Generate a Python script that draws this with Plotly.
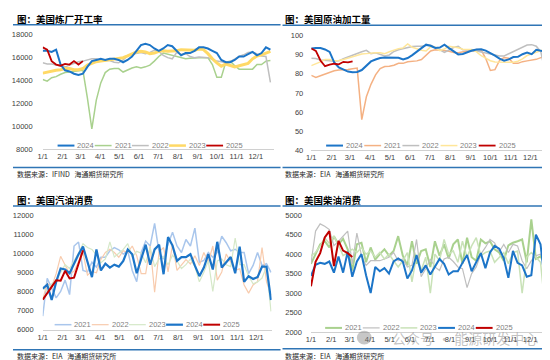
import plotly.graph_objects as go

# ---------------- data ----------------
month_days = [0, 31, 59, 90, 120, 151, 181, 212, 243, 273, 304, 334]
month_labels = ["1/1", "2/1", "3/1", "4/1", "5/1", "6/1", "7/1", "8/1", "9/1", "10/1", "11/1", "12/1"]

# Panel 1: 美国炼厂开工率
ref_2024 = [16600, 16600, 16500, 16700, 15400, 14900, 14800, 14600, 14500, 14600,
            15200, 15700, 15800, 15900, 15800, 15900, 15900, 15800, 15600, 15800,
            16100, 16600, 17100, 17200, 17100, 16800, 16600, 16800, 17100, 17000,
            16600, 16200, 16400, 16400, 16600, 16900, 16900, 16800, 16600, 16400,
            15800, 15600, 15600, 15800, 16100, 16100, 16300, 16500, 16200, 16400,
            16900, 16700]
ref_2021 = [14100, 13950, 14250, 14350, 14550, 14700, 14750, 14800, 14900, 14900,
            12500, 9800, 12300, 13800, 14700, 15000, 15050, 15050, 14750, 14950,
            15100, 15200, 15100, 15200, 15350, 15700, 16100, 16400, 16300, 16200,
            16150, 16000, 15900, 15950, 16000, 16000, 16000, 16000, 15400, 14300,
            14300, 15600, 15700, 15300, 15000, 15000, 15000, 15000, 15400, 15400,
            15700, 15750]
ref_2022 = [15550, 15450, 15450, 15350, 15250, 15200, 15350, 15500, 15650, 15700,
            15800, 15900, 15900, 15750, 15750, 15750, 15600, 15550, 15800, 16150,
            16300, 16350, 16450, 16350, 16450, 16650, 16550, 16200, 16000, 15900,
            16450, 16300, 16350, 16100, 16000, 16050, 16050, 16000, 15850, 15700,
            15650, 15550, 15650, 15900, 16100, 16250, 16450, 16500, 16300, 16150,
            16100, 13850]
ref_2023 = [14650, 14750, 14850, 14900, 14950, 15050, 15050, 14950, 14950, 15050,
            15350, 15500, 15650, 15700, 15750, 15800, 15850, 15900, 16000, 16150,
            16300, 16500, 16550, 16500, 16350, 16400, 16550, 16600, 16550, 16550,
            16600, 16700, 16700, 16650, 16650, 16750, 16700, 16350, 15900, 15550,
            15250, 15450, 15300, 15200, 15300, 15400, 15500, 15900, 16150, 16250,
            16400, 16550]
ref_2025 = [16900, 16700, 15700, 15400, 15300, 15450, 15400, 15700, 15400, 15700]

# Panel 2: 美国原油加工量
run_2024 = [93.3, 93.6, 93.5, 92.8, 91.5, 86.0, 83.4, 82.3, 81.2, 80.9,
            81.0, 82.0, 84.5, 86.5, 87.5, 88.3, 88.6, 88.6, 88.6, 88.4,
            87.5, 88.3, 89.8, 91.5, 93.5, 95.3, 94.7, 93.6, 93.8, 95.3,
            93.5, 91.8, 90.2, 90.4, 91.5, 92.2, 92.8, 92.9, 92.2, 91.0,
            89.5, 88.0, 86.9, 87.6, 88.8, 88.9, 90.3, 91.1, 90.3, 92.6,
            92.1, 91.6]
run_2021 = [79.2, 78.1, 79.0, 80.0, 81.0, 81.6, 82.0, 82.0, 82.3, 82.7,
            83.0, 56.0, 68.0, 74.5, 79.5, 82.8, 83.8, 84.0, 84.5, 85.5,
            85.5, 86.3, 86.5, 86.8, 87.5, 89.5, 92.0, 92.6, 92.5, 92.2,
            91.8, 91.2, 91.1, 91.7, 92.0, 92.2, 92.7, 92.5, 88.0, 81.8,
            82.2, 87.0, 88.6, 88.2, 85.5, 85.5, 86.4, 86.8, 87.2, 87.6,
            88.5, 89.3]
run_2022 = [88.2, 88.0, 87.3, 86.9, 86.9, 86.6, 86.8, 87.9, 88.9, 89.8,
            90.5, 91.6, 92.3, 90.6, 91.0, 90.2, 89.4, 89.9, 91.7, 92.6,
            93.2, 93.6, 94.3, 94.5, 94.5, 94.9, 95.0, 93.9, 92.5, 91.3,
            92.5, 93.8, 94.4, 92.6, 92.6, 91.8, 92.0, 91.5, 91.1, 90.6,
            90.2, 89.4, 89.4, 90.5, 92.0, 93.0, 94.2, 95.1, 95.3, 94.5,
            91.5, 80.0]
run_2023 = [84.3, 85.2, 86.3, 87.5, 87.5, 86.9, 87.0, 87.5, 88.3, 89.1,
            89.9, 90.4, 90.6, 90.9, 91.1, 91.0, 90.6, 91.6, 92.6, 93.2,
            93.6, 95.7, 93.9, 93.0, 92.4, 92.0, 94.2, 93.9, 92.2, 93.1,
            94.4, 94.1, 93.7, 92.9, 92.8, 92.8, 91.5, 89.5, 88.2, 86.9,
            86.2, 86.1, 86.1, 86.1, 86.1, 86.6, 87.8, 89.6, 90.5, 91.1,
            92.2, 93.0]
run_2025 = [93.3, 92.0, 87.0, 84.0, 84.8, 85.3, 85.0, 86.3, 86.0, 86.5]

# Panel 3: 美国汽油消费
gas_2021 = [6700, 8680, 8170, 7660, 8000, 8590, 7830, 10380, 10590, 9100,
            9020, 9530, 9270, 9790, 9790, 10130, 10300, 10180, 9960, 10130,
            9100, 8510, 10040, 10640, 10380, 11570, 10040, 9700, 10470, 11100,
            10380, 10040, 10720, 10380, 11320, 9530, 9620, 10040, 9790, 10040,
            10890, 10550, 10130, 10210, 10040, 10040, 8930, 9360, 10040, 9360,
            9450, 9000]
gas_2022 = [7570, 8420, 8250, 8930, 9840, 9360, 8930, 9050, 9530, 10040,
            8850, 9050, 8980, 9670, 10040, 10210, 10040, 9790, 10130, 10040,
            10380, 9870, 8930, 8930, 10380, 7960, 10070, 10300, 9020, 10470,
            9100, 9390, 9670, 9440, 9870, 9360, 10040, 9530, 10380, 8590,
            9020, 9960, 9500, 9100, 9190, 8340, 7910, 8340, 8510, 10300,
            8510, 7800]
gas_2023 = [8200, 8000, 8400, 8600, 9000, 9400, 9200, 9600, 10000, 10500,
            10300, 10200, 9900, 9500, 9700, 10600, 9800, 10000, 10200, 10500,
            9800, 10100, 10000, 9500, 10300, 9300, 9700, 9800, 9400, 9900,
            9600, 9200, 9400, 9700, 9300, 8500, 9000, 9600, 8000, 9600,
            9700, 9400, 9300, 10800, 9400, 9400, 8800, 8400, 8500, 8700,
            9300, 6950]
gas_2024 = [8150, 8350, 7550, 8500, 9200, 9150, 8950, 9450, 9950, 10350,
            9550, 8750, 10200, 9100, 9450, 9250, 9400, 9300, 9600, 10200,
            9950, 8950, 9700, 10450, 9400, 10200, 10450, 8900, 10850, 10400,
            9600, 9800, 9800, 9950, 9350, 8800, 9250, 9950, 9150, 10600,
            9250, 9500, 9800, 8950, 10350, 8500, 8800, 8650, 8750, 9300,
            9300, 7550]
gas_2025 = [7570, 7920, 8250, 8580, 8560, 9080, 8680, 8720, 9450, 10150]

# Panel 4: 美国柴油消费
dsl_2021 = [3750, 4000, 4250, 4330, 4170, 4460, 4250, 4390, 4125, 3580,
            4250, 4290, 3790, 4170, 3860, 4000, 4125, 3960, 4080, 4460,
            3960, 3710, 4330, 3750, 4080, 4125, 3670, 4330, 3960, 4250,
            3890, 4250, 4375, 3750, 4420, 3920, 3830, 4375, 4275, 4330,
            4125, 4040, 3830, 4225, 4290, 4330, 4375, 3790, 4890, 3875,
            3940, 3750]
dsl_2022 = [3760, 4590, 4775, 4715, 4630, 4215, 4330, 4465, 4590, 3750,
            4540, 3960, 3710, 3830, 3830, 3830, 3875, 3920, 4040, 3830,
            3875, 3670, 3710, 4375, 3420, 3625, 3875, 3670, 3580, 3875,
            3920, 3810, 3670, 3625, 3140, 3500, 3670, 4000, 4170, 4375,
            4290, 4060, 4250, 4040, 4250, 4210, 3830, 3625, 3830, 3960,
            4000, 3920]
dsl_2023 = [3960, 4040, 4210, 4420, 4275, 4460, 4225, 3960, 4040, 4125,
            4040, 4170, 4000, 4080, 3920, 4040, 3875, 4000, 3830, 3670,
            3830, 4040, 3290, 3960, 3580, 3920, 3000, 4000, 3830, 4375,
            4000, 4080, 3790, 4330, 3920, 4210, 4420, 3960, 4040, 4080,
            3790, 3920, 4040, 3750, 4040, 4080, 3000, 3920, 4040, 3920,
            3790, 2625]
dsl_2024 = [3440, 3725, 3775, 3750, 3810, 3525, 3940, 3525, 4060, 3420,
            3810, 4000, 3460, 3000, 3670, 3560, 3640, 3500, 3810, 3890,
            3810, 3375, 3580, 3975, 3525, 3710, 3475, 3670, 3875, 3750,
            3475, 3560, 3560, 3775, 3975, 3560, 3810, 4025, 3640, 4040,
            4210, 4140, 3890, 3390, 4080, 3775, 3710, 3420, 3460, 4500,
            4250, 3250]
dsl_2025 = [3175, 3800, 4025, 4425, 4590, 3690, 4340, 4090, 4025, 3925]

# ---------------- styling ----------------
W, H = 550, 360
BLUE = "#1C75C8"
RED = "#C00000"
SEP = "#2F75B5"
TICKFONT = dict(family="Liberation Sans, Arial, sans-serif", size=7.5, color="#404040")
CJK = "Noto Sans CJK SC, sans-serif"


def fx(x):
    return x / W


def fy(y):
    return 1 - y / H


def days(vals):
    return [7 * i for i in range(len(vals))]


panels = [
    dict(n="", xd=(30, 263), yd=(141, 23.3), xr=[0, 362], yr=[8000, 18000], dt=2000, so=9,
         series=[("2021", ref_2021, "#A9D18E", 1.5), ("2022", ref_2022, "#BFBFBF", 1.5),
                 ("2023", ref_2023, "#FFD966", 3), ("2024", ref_2024, BLUE, 2),
                 ("2025", ref_2025, RED, 1.8)],
         legend_order=["2024", "2021", "2022", "2023", "2025"], leg=(45, 137, 37.5),
         title="图：美国炼厂开工率", tx=2, ty=7.5, src="数据来源：IFIND\u00a0\u00a0\u00a0海通期货研究所",
         sx=2, sy=166, l1=(0, 270, 13), l2=(0, 270, 159.5)),
    dict(n="2", xd=(301, 540), yd=(141.7, 24.3), xr=[0, 361], yr=[40, 100], dt=10, so=7,
         series=[("2021", run_2021, "#F4B183", 1.5), ("2022", run_2022, "#BFBFBF", 1.5),
                 ("2023", run_2023, "#FFE699", 1.5), ("2024", run_2024, BLUE, 2),
                 ("2025", run_2025, RED, 1.8)],
         legend_order=["2024", "2021", "2022", "2023", "2025"], leg=(316, 137, 38.5),
         title="图：美国原油加工量", tx=272, ty=7.5, src="数据来源：EIA\u00a0\u00a0\u00a0海通期货研究所",
         sx=272, sy=166, l1=(272, 550, 13.5), l2=(272, 550, 159.5)),
    dict(n="3", xd=(30, 261), yd=(325.7, 208.3), xr=[0, 358], yr=[6000, 12000], dt=1000, so=8,
         series=[("2021", gas_2021, "#A9C6EC", 1.5), ("2022", gas_2022, "#F8CBAD", 1.2),
                 ("2023", gas_2023, "#D5E8C8", 1.2), ("2024", gas_2024, BLUE, 2.2),
                 ("2025", gas_2025, RED, 2)],
         legend_order=["2021", "2022", "2023", "2024", "2025"], leg=(42, 320.7, 37.5),
         title="图：美国汽油消费", tx=2, ty=193.3, src="数据来源：EIA\u00a0\u00a0\u00a0海通期货研究所",
         sx=2, sy=352.5, l1=(0, 270, 199), l2=(0, 270, 346.5)),
    dict(n="4", xd=(300.7, 538.3), yd=(328.3, 208.3), xr=[0, 359], yr=[2000, 5000], dt=500, so=8,
         series=[("2021", dsl_2021, "#A9D18E", 2), ("2022", dsl_2022, "#BFBFBF", 1.2),
                 ("2023", dsl_2023, "#C9E2B8", 1.5), ("2024", dsl_2024, BLUE, 2),
                 ("2025", dsl_2025, RED, 2)],
         legend_order=["2021", "2022", "2023", "2024", "2025"], leg=(315, 324, 38),
         title="图：美国柴油消费", tx=272, ty=193.3, src="数据来源：EIA\u00a0\u00a0\u00a0海通期货研究所",
         sx=272, sy=352.5, l1=(272, 550, 199), l2=(272, 550, 345.5)),
]

fig = go.Figure()
shapes = []
annotations = []
layout = {}

for p in panels:
    xa = "x" + p["n"]
    ya = "y" + p["n"]
    for name, vals, color, width in p["series"]:
        fig.add_trace(go.Scatter(x=days(vals), y=vals, mode="lines", name=name,
                                 line=dict(color=color, width=width), xaxis=xa, yaxis=ya,
                                 showlegend=False, hoverinfo="skip", cliponaxis=True))
    layout["xaxis" + p["n"]] = dict(
        domain=[fx(p["xd"][0]), fx(p["xd"][1])], range=p["xr"], anchor=ya,
        tickmode="array", tickvals=month_days, ticktext=month_labels,
        showgrid=False, zeroline=False, showline=True, linecolor="#D0D0D0", linewidth=1,
        ticks="", tickfont=TICKFONT, fixedrange=True)
    layout["yaxis" + p["n"]] = dict(
        domain=[fy(p["yd"][0]), fy(p["yd"][1])], range=p["yr"], anchor=xa,
        dtick=p["dt"], tick0=p["yr"][0], tickformat="d",
        showgrid=False, zeroline=False, showline=False, ticks="",
        tickfont=TICKFONT, ticklabelstandoff=p["so"], fixedrange=True)

    # legend drawn as small line samples + labels
    style = {s[0]: (s[2], s[3]) for s in p["series"]}
    x0, ly, pitch = p["leg"]
    for i, name in enumerate(p["legend_order"]):
        c, w = style[name]
        sx = x0 + i * pitch
        shapes.append(dict(type="line", xref="paper", yref="paper",
                           x0=fx(sx), x1=fx(sx + 17), y0=fy(ly), y1=fy(ly),
                           line=dict(color=c, width=min(w, 2.5))))
        annotations.append(dict(xref="paper", yref="paper", x=fx(sx + 18), y=fy(ly),
                                xanchor="left", yanchor="middle", text=name, showarrow=False,
                                font=dict(family="Liberation Sans, Arial, sans-serif", size=7.5,
                                          color="#7F7F7F")))

    # title, source, separators
    annotations.append(dict(xref="paper", yref="paper", x=fx(p["tx"]), y=fy(p["ty"]),
                            xanchor="left", yanchor="middle", text="<b>" + p["title"] + "</b>",
                            showarrow=False, font=dict(family=CJK, size=9.5, color="#000000")))
    annotations.append(dict(xref="paper", yref="paper", x=fx(p["sx"]), y=fy(p["sy"]),
                            xanchor="left", yanchor="middle", text=p["src"],
                            showarrow=False, font=dict(family=CJK, size=7, color="#262626")))
    for (a, b, yy) in (p["l1"], p["l2"]):
        shapes.append(dict(type="line", xref="paper", yref="paper", x0=fx(a), x1=fx(b),
                           y0=fy(yy), y1=fy(yy), line=dict(color=SEP, width=1.5)))

# watermark
shapes.append(dict(type="circle", xref="paper", yref="paper", x0=fx(347), x1=fx(362),
                   y0=fy(341), y1=fy(327), fillcolor="rgba(130,130,130,0.45)",
                   line=dict(width=0)))
annotations.append(dict(xref="paper", yref="paper", x=fx(456), y=fy(334), xanchor="center",
                        yanchor="middle", text="公众号 · 能源研发中心", showarrow=False,
                        font=dict(family=CJK, size=14, color="rgba(120,120,120,0.45)")))

fig.update_layout(**layout)
fig.update_layout(width=W, height=H, autosize=False,
                  margin=dict(l=0, r=0, t=0, b=0),
                  paper_bgcolor="white", plot_bgcolor="white",
                  shapes=shapes, annotations=annotations, showlegend=False)

fig.write_html("out.html")
